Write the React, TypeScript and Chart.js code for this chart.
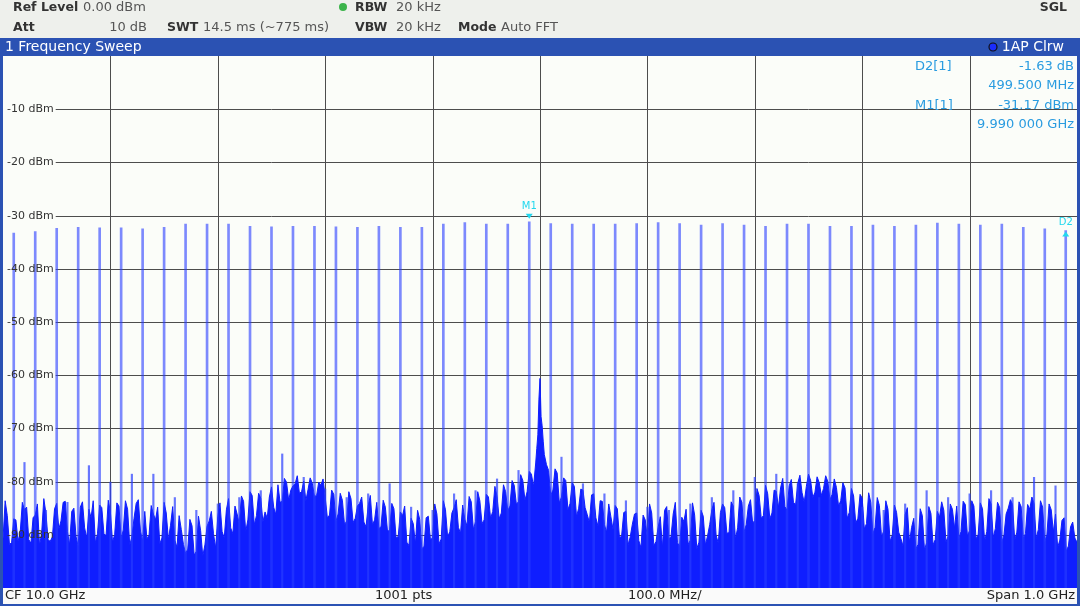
import React, { useEffect, useRef } from 'react';
import { Chart, registerables } from 'chart.js';
Chart.register(...registerables);

// ---- axis ranges (MHz, dBm)
const F_START = 9500;
const F_STOP = 10500;
const Y_MIN = -100;
const Y_MAX = 0;
const X_GRID_MHZ = [9600, 9700, 9800, 9900, 10000, 10100, 10200, 10300, 10400];
const Y_GRID_DBM = [-10, -20, -30, -40, -50, -60, -70, -80, -90];
const Y_TICK_LABELS = ['-10 dBm', '-20 dBm', '-30 dBm', '-40 dBm', '-50 dBm', '-60 dBm', '-70 dBm', '-80 dBm', '-90 dBm'];

// ---- noise floor trace: values at 9500 + 4n MHz
const NOISE_START_MHZ = 9500;
const NOISE_STEP_MHZ = 4;
const NOISE_DBM = [
  -90.8, -86.4, -91.5, -87.2, -89.6, -85.3, -90.9, -86.8, -84.2, -89.7, -86.0, -91.2, -85.1, -88.9, -83.9, -89.4, -85.6, -90.3, -84.8, -88.7, -85.2, -83.6, -89.8, -84.9, -90.1,
  -85.7, -89.9, -84.6, -89.1, -85.2, -90.4, -84.1, -89.3, -85.6, -90.0, -86.1, -84.8, -90.6, -85.9, -88.2, -91.0, -86.4, -91.8, -92.7, -88.3, -93.1, -89.2, -91.9, -87.4, -89.8,
  -86.6, -89.4, -85.3, -88.7, -84.6, -87.9, -83.7, -87.2, -82.6, -86.4, -83.1, -85.7, -82.9, -84.8, -80.6, -83.7, -80.1, -81.6, -80.4, -82.2, -79.9, -81.5, -80.3, -82.6, -80.7,
  -82.9, -86.3, -82.4, -86.1, -83.5, -87.4, -83.2, -86.9, -84.1, -87.6, -84.6, -88.1, -83.9, -88.4, -84.8, -89.2, -85.1, -90.3, -86.4, -91.4, -86.9, -91.7, -87.1, -92.2, -86.5,
  -90.6, -86.1, -90.8, -85.3, -89.4, -84.9, -88.6, -84.4, -88.3, -83.8, -87.5, -83.6, -87.2, -82.9, -85.6, -82.8, -85.9, -81.9, -84.6, -80.7, -83.8, -79.8, -81.9, -78.6, -77.6,
  -61.5, -76.4, -77.9, -81.6, -78.4, -82.9, -79.8, -84.1, -80.9, -85.0, -81.6, -86.2, -82.5, -86.8, -83.6, -88.1, -84.2, -89.0, -85.1, -90.2, -85.6, -90.4, -86.1, -91.1, -86.3,
  -90.7, -85.9, -91.3, -86.6, -85.4, -90.8, -86.1, -91.5, -86.7, -85.2, -91.0, -86.3, -91.4, -86.5, -90.2, -85.3, -90.1, -85.8, -84.9, -89.6, -84.6, -88.7, -83.9, -88.1, -83.4,
  -87.3, -82.6, -86.4, -82.3, -85.9, -81.8, -81.2, -84.7, -80.8, -83.9, -80.3, -82.1, -80.9, -79.8, -82.0, -80.2, -81.3, -80.0, -82.4, -81.1, -83.6, -81.2, -85.8, -82.7, -86.9,
  -83.1, -87.9, -83.9, -88.6, -84.5, -89.3, -85.2, -90.1, -85.8, -90.7, -86.2, -91.4, -86.9, -91.8, -86.4, -91.5, -86.0, -90.9, -86.7, -85.4, -90.3, -85.2, -84.6, -89.4, -84.3,
  -89.2, -84.6, -89.9, -85.1, -89.4, -84.2, -88.8, -84.9, -90.1, -85.0, -84.3, -89.5, -84.7, -89.8, -85.2, -84.1, -89.0, -84.8, -89.9, -85.3, -86.1, -91.0, -86.8, -92.1, -87.6,
  -91.4,
];
// ---- noise floor trace: values at 9502 + 4n MHz (in between)
const NOISE_MID_START_MHZ = 9502;
const NOISE_MID_DBM = [
  -83.6, -91.8, -87.0, -91.2, -83.9, -84.8, -91.6, -86.3, -92.0, -83.2, -91.0, -90.4, -84.1, -87.4, -83.7, -91.9, -85.0, -92.2, -83.8, -90.6, -86.8, -91.5, -84.4, -89.9, -83.5,
  -91.4, -84.0, -90.7, -83.6, -91.9, -86.9, -83.4, -91.2, -90.8, -84.5, -87.2, -91.7, -83.9, -90.9, -84.7, -92.4, -89.0, -93.5, -87.1, -93.8, -86.5, -94.0, -88.4, -85.6, -92.5,
  -84.0, -90.6, -83.2, -89.8, -86.1, -82.7, -89.4, -81.9, -88.1, -82.2, -87.6, -86.9, -81.0, -86.2, -83.9, -79.4, -83.5, -80.8, -78.9, -81.9, -83.6, -79.3, -82.8, -80.1, -79.5,
  -86.8, -81.6, -87.5, -82.2, -88.1, -81.9, -87.7, -84.6, -82.9, -88.5, -82.6, -87.2, -88.9, -83.5, -89.3, -84.1, -90.6, -85.7, -84.6, -92.0, -87.9, -85.4, -92.6, -86.8, -90.9,
  -84.2, -91.7, -83.6, -90.4, -85.9, -83.4, -89.7, -87.1, -82.8, -89.0, -81.9, -87.9, -82.4, -86.9, -80.9, -87.0, -80.6, -85.5, -79.8, -84.2, -78.7, -83.5, -78.1, -80.9, -74.0,
  -70.0, -77.0, -82.6, -77.6, -84.0, -79.3, -85.3, -80.2, -86.6, -81.4, -84.9, -87.7, -82.3, -88.4, -83.7, -89.5, -86.6, -84.5, -90.6, -85.8, -91.9, -88.0, -85.9, -92.4, -87.2,
  -84.2, -92.0, -88.6, -92.5, -84.7, -90.3, -83.9, -92.2, -87.5, -91.8, -84.0, -92.6, -85.4, -91.9, -88.1, -83.9, -91.6, -84.2, -89.7, -83.8, -90.8, -82.9, -89.5, -84.6, -87.8,
  -81.3, -86.9, -80.7, -87.0, -81.6, -84.9, -79.4, -85.4, -79.6, -84.3, -78.8, -83.9, -78.6, -83.0, -79.1, -82.6, -78.9, -83.4, -79.5, -84.6, -80.2, -86.9, -81.3, -87.8, -82.4,
  -88.9, -82.1, -89.8, -83.0, -90.4, -83.6, -91.2, -84.4, -89.5, -92.1, -84.9, -88.6, -92.6, -85.1, -92.8, -84.7, -91.9, -85.6, -83.8, -91.3, -84.2, -88.8, -90.7, -83.7, -90.2,
  -83.6, -90.8, -84.0, -91.2, -83.2, -90.5, -83.9, -91.4, -86.1, -83.4, -91.0, -83.8, -90.6, -84.3, -82.9, -90.7, -83.6, -91.3, -84.2, -89.5, -92.4, -87.3, -93.1, -88.5, -90.6,
];

// ---- central carrier-leak peak around 10.0 GHz (fine resolution)
const PEAK_MHZ = [9996, 9997, 9998, 9999, 10000, 10001, 10002, 10003, 10004, 10006];
const PEAK_DBM = [-76.5, -73.8, -71.2, -64.5, -60.6, -67.8, -69.5, -72.4, -74.9, -76.8];

// ---- main spurs (20 MHz comb)
const SPUR_MHZ = [
  9510, 9530, 9550, 9570, 9590, 9610, 9630, 9650, 9670, 9690,
  9710, 9730, 9750, 9770, 9790, 9810, 9830, 9850, 9870, 9890,
  9910, 9930, 9950, 9970, 9990, 10010, 10030, 10050, 10070, 10090,
  10110, 10130, 10150, 10170, 10190, 10210, 10230, 10250, 10270, 10290,
  10310, 10330, 10350, 10370, 10390, 10410, 10430, 10450, 10470, 10489.5,
];
const SPUR_DBM = [
  -33.3, -33.0, -32.4, -32.2, -32.3, -32.3, -32.5, -32.2, -31.6, -31.6,
  -31.6, -32.0, -32.1, -32.0, -32.0, -32.1, -32.2, -32.0, -32.2, -32.2,
  -31.6, -31.3, -31.6, -31.6, -31.17, -31.5, -31.6, -31.6, -31.6, -31.5,
  -31.3, -31.5, -31.8, -31.5, -31.8, -32.0, -31.6, -31.6, -32.0, -32.0,
  -31.8, -32.0, -31.8, -31.4, -31.6, -31.8, -31.6, -32.2, -32.5, -32.8,
];

// ---- weaker spurs in between
const SUB_SPUR_MHZ = [
  9520, 9540, 9560, 9580, 9600, 9620, 9640, 9660, 9680, 9700,
  9720, 9740, 9760, 9780, 9800, 9820, 9840, 9860, 9880, 9900,
  9920, 9940, 9960, 9980, 10020, 10040, 10060, 10080, 10100, 10120,
  10140, 10160, 10180, 10200, 10220, 10240, 10260, 10280, 10300, 10320,
  10340, 10360, 10380, 10400, 10420, 10440, 10460, 10480,
];
const SUB_SPUR_DBM = [
  -76.4, -85.4, -83.9, -77.0, -80.1, -78.6, -78.6, -83.0, -85.4, -84.2,
  -83.0, -81.7, -74.8, -79.2, -81.4, -83.0, -82.3, -80.4, -84.8, -85.4,
  -82.3, -81.7, -79.5, -77.9, -75.4, -80.4, -82.3, -83.6, -84.8, -85.4,
  -84.2, -83.0, -81.7, -79.2, -78.6, -80.4, -83.0, -84.2, -84.8, -85.4,
  -84.2, -81.7, -83.0, -82.3, -81.7, -83.0, -79.2, -80.8,
];

// ---- markers
const MARKER_NAMES = ['M1', 'D2'];
const MARKER_MHZ = [9990, 10489.5];
const MARKER_DBM = [-31.17, -32.8];
const MARKER_DIR = ['down', 'up'];
const MARKER_INFO_LEFT = ['D2[1]', '', 'M1[1]', ''];
const MARKER_INFO_RIGHT = ['-1.63 dB', '499.500 MHz', '-31.17 dBm', '9.990 000 GHz'];

const TRACE = '#0f1eff';
const FRAME_BLUE = '#2b52b3';
const PLOT_BG = '#fbfdf9';
const FONT = '"DejaVu Sans", sans-serif';

function buildTrace() {
  const lo = Math.min(...PEAK_MHZ);
  const hi = Math.max(...PEAK_MHZ);
  const pts: { x: number; y: number }[] = [];
  NOISE_DBM.forEach((v, i) => {
    const f = NOISE_START_MHZ + i * NOISE_STEP_MHZ;
    if (f < lo || f > hi) pts.push({ x: f, y: v });
  });
  NOISE_MID_DBM.forEach((v, i) => {
    const f = NOISE_MID_START_MHZ + i * NOISE_STEP_MHZ;
    if (f < lo || f > hi) pts.push({ x: f, y: v });
  });
  PEAK_MHZ.forEach((f, i) => pts.push({ x: f, y: PEAK_DBM[i] }));
  pts.sort((a, b) => a.x - b.x);
  return pts;
}

const decorPlugin = {
  id: 'decor',
  beforeDraw(chart: any) {
    const ctx = chart.ctx;
    const { left, right, top, bottom } = chart.chartArea;
    ctx.save();
    ctx.fillStyle = '#eef0ec';
    ctx.fillRect(0, 0, chart.width, chart.height);
    ctx.textBaseline = 'middle';
    const lab = (t: string, x: number, y: number, align = 'left') => {
      ctx.font = `bold 12.5px ${FONT}`;
      ctx.fillStyle = '#333';
      ctx.textAlign = align;
      ctx.fillText(t, x, y);
    };
    const val = (t: string, x: number, y: number, align = 'left') => {
      ctx.font = `13px ${FONT}`;
      ctx.fillStyle = '#555';
      ctx.textAlign = align;
      ctx.fillText(t, x, y);
    };
    lab('Ref Level', 13, 8);
    val('0.00 dBm', 83, 8);
    lab('Att', 13, 28);
    val('10 dB', 147, 28, 'right');
    lab('SWT', 167, 28);
    val('14.5 ms (~775 ms)', 203, 28);
    ctx.fillStyle = '#3cb44b';
    ctx.beginPath();
    ctx.arc(343, 7, 4, 0, Math.PI * 2);
    ctx.fill();
    lab('RBW', 355, 8);
    val('20 kHz', 396, 8);
    lab('VBW', 355, 28);
    val('20 kHz', 396, 28);
    lab('Mode', 458, 28);
    val('Auto FFT', 501, 28);
    lab('SGL', 1067, 8, 'right');
    // title bar
    ctx.fillStyle = FRAME_BLUE;
    ctx.fillRect(0, 38, chart.width, top - 38);
    ctx.font = `14px ${FONT}`;
    ctx.fillStyle = '#ffffff';
    ctx.textAlign = 'left';
    ctx.fillText('1 Frequency Sweep', 5, 47);
    ctx.textAlign = 'right';
    ctx.fillText('1AP Clrw', 1064, 47);
    ctx.beginPath();
    ctx.arc(993, 47, 4, 0, Math.PI * 2);
    ctx.fillStyle = '#1a2cff';
    ctx.fill();
    ctx.strokeStyle = '#111';
    ctx.lineWidth = 1.2;
    ctx.stroke();
    // side frames
    ctx.fillStyle = FRAME_BLUE;
    ctx.fillRect(0, top, left, chart.height - top);
    ctx.fillRect(right, top, chart.width - right, chart.height - top);
    // plot background
    ctx.fillStyle = PLOT_BG;
    ctx.fillRect(left, top, right - left, bottom - top);
    // bottom bar
    ctx.fillStyle = '#fafafa';
    ctx.fillRect(left, bottom, right - left, 16);
    ctx.fillStyle = FRAME_BLUE;
    ctx.fillRect(0, bottom + 16, chart.width, 2);
    ctx.fillStyle = '#e8eae6';
    ctx.fillRect(0, bottom + 18, chart.width, chart.height - bottom - 18);
    ctx.font = `13px ${FONT}`;
    ctx.fillStyle = '#222';
    ctx.textBaseline = 'middle';
    ctx.textAlign = 'left';
    ctx.fillText('CF 10.0 GHz', 5, bottom + 8);
    ctx.fillText('1001 pts', 375, bottom + 8);
    ctx.fillText('100.0 MHz/', 628, bottom + 8);
    ctx.textAlign = 'right';
    ctx.fillText('Span 1.0 GHz', 1075, bottom + 8);
    ctx.restore();
  },
  beforeDatasetsDraw(chart: any) {
    const ctx = chart.ctx;
    const { left, right, top, bottom } = chart.chartArea;
    const xs = chart.scales.x;
    const ys = chart.scales.y;
    ctx.save();
    ctx.strokeStyle = '#4d4d4d';
    ctx.lineWidth = 1;
    ctx.beginPath();
    X_GRID_MHZ.forEach((f) => {
      const px = Math.round(xs.getPixelForValue(f)) + 0.5;
      ctx.moveTo(px, top);
      ctx.lineTo(px, bottom);
    });
    Y_GRID_DBM.forEach((d) => {
      const py = Math.round(ys.getPixelForValue(d)) + 0.5;
      ctx.moveTo(left, py);
      ctx.lineTo(right, py);
    });
    ctx.stroke();
    ctx.font = `11px ${FONT}`;
    Y_GRID_DBM.forEach((d, i) => {
      const py = Math.round(ys.getPixelForValue(d));
      const w = ctx.measureText(Y_TICK_LABELS[i]).width;
      ctx.fillStyle = PLOT_BG;
      ctx.fillRect(left, py - 2, w + 6, 5);
    });
    ctx.restore();
  },
  afterDatasetsDraw(chart: any) {
    const ctx = chart.ctx;
    const { left, right } = chart.chartArea;
    const xs = chart.scales.x;
    const ys = chart.scales.y;
    ctx.save();
    ctx.font = `11px ${FONT}`;
    ctx.fillStyle = '#333';
    ctx.textAlign = 'left';
    ctx.textBaseline = 'middle';
    Y_GRID_DBM.forEach((d, i) => {
      const py = Math.round(ys.getPixelForValue(d));
      ctx.fillText(Y_TICK_LABELS[i], left + 4, py + 0.5);
    });
    // markers
    ctx.fillStyle = '#22d8ee';
    ctx.font = `10px ${FONT}`;
    ctx.textAlign = 'center';
    MARKER_NAMES.forEach((n, i) => {
      const px = xs.getPixelForValue(MARKER_MHZ[i]);
      const py = ys.getPixelForValue(MARKER_DBM[i]);
      ctx.beginPath();
      if (MARKER_DIR[i] === 'down') {
        ctx.moveTo(px - 3.5, py - 8);
        ctx.lineTo(px + 3.5, py - 8);
        ctx.lineTo(px, py - 3);
        ctx.closePath();
        ctx.fill();
        ctx.fillText(n, px, py - 15);
      } else {
        ctx.moveTo(px - 3.5, py + 6);
        ctx.lineTo(px + 3.5, py + 6);
        ctx.lineTo(px, py + 1);
        ctx.closePath();
        ctx.fill();
        ctx.fillText(n, px, py - 8);
      }
    });
    // marker info table
    ctx.font = `13px ${FONT}`;
    ctx.fillStyle = '#2a9ce0';
    const rowsY = [67, 86, 106, 125];
    MARKER_INFO_LEFT.forEach((t, i) => {
      ctx.textAlign = 'left';
      if (t) ctx.fillText(t, 915, rowsY[i]);
      ctx.textAlign = 'right';
      ctx.fillText(MARKER_INFO_RIGHT[i], right - 3, rowsY[i]);
    });
    ctx.restore();
  },
};

export default function App() {
  const ref = useRef<HTMLCanvasElement | null>(null);
  useEffect(() => {
    if (!ref.current) return;
    const trace = buildTrace();
    const spurs = SPUR_MHZ.map((f, i) => ({ x: f, y: SPUR_DBM[i] }));
    const subs = SUB_SPUR_MHZ.map((f, i) => ({ x: f, y: SUB_SPUR_DBM[i] }));
    const chart = new Chart(ref.current, {
      type: 'line',
      data: {
        datasets: [
          {
            type: 'bar',
            data: subs,
            backgroundColor: 'rgba(40,60,255,0.7)',
            barThickness: 1.5,
            base: Y_MIN,
            grouped: false,
            order: 2,
          } as any,
          {
            type: 'bar',
            data: spurs,
            backgroundColor: 'rgba(40,60,255,0.6)',
            barThickness: 2,
            base: Y_MIN,
            grouped: false,
            order: 1,
          } as any,
          {
            type: 'line',
            data: trace,
            borderColor: TRACE,
            backgroundColor: TRACE,
            borderWidth: 1,
            pointRadius: 0,
            tension: 0,
            fill: 'start',
            order: 3,
          },
        ],
      },
      options: {
        responsive: false,
        animation: false,
        devicePixelRatio: 1,
        layout: { padding: { left: 3, right: 3, top: 56, bottom: 18 } },
        plugins: { legend: { display: false }, tooltip: { enabled: false } },
        scales: {
          x: { type: 'linear', min: F_START, max: F_STOP, display: false, offset: false },
          y: { type: 'linear', min: Y_MIN, max: Y_MAX, display: false },
        },
      },
      plugins: [decorPlugin],
    });
    return () => chart.destroy();
  }, []);
  return (
    <div style={{ position: 'fixed', left: 0, top: 0, width: 1080, height: 606 }}>
      <canvas ref={ref} width={1080} height={606} style={{ display: 'block' }} />
    </div>
  );
}
